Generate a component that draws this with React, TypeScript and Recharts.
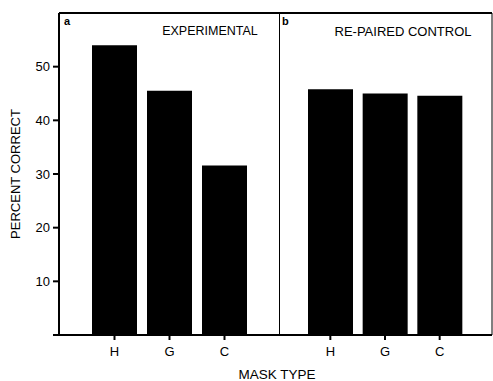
import { BarChart, Bar, XAxis, YAxis, ReferenceLine } from 'recharts';

const maskTypes = ['H', 'G', 'C'];
const experimental = [54, 45.5, 31.6];
const rePairedControl = [45.8, 45, 44.6];
const yTicks = [0, 10, 20, 30, 40, 50];

const dataA = maskTypes.map((m, i) => ({ mask: m, value: experimental[i] }));
const dataB = maskTypes.map((m, i) => ({ mask: m, value: rePairedControl[i] }));

const font = '"Liberation Sans", Arial, sans-serif';
const tickStyle = { fill: '#000', fontSize: 13, fontFamily: font };

export default function App() {
  return (
    <div style={{ position: 'absolute', left: 0, top: 0, width: 493, height: 381, background: '#fff' }}>
      <div style={{ position: 'absolute', left: 0, top: 0 }}>
        <BarChart width={280} height={381} data={dataA} margin={{ top: 12, right: 0, left: 0, bottom: 0 }}>
          <XAxis
            dataKey="mask"
            padding={{ left: 28, right: 28 }}
            stroke="#000"
            strokeWidth={2}
            tickSize={5}
            tickMargin={7}
            tick={tickStyle}
            height={46}
          />
          <XAxis
            xAxisId="top"
            dataKey="mask"
            orientation="top"
            height={1}
            stroke="#000"
            strokeWidth={2}
            tick={false}
            tickLine={false}
          />
          <YAxis
            domain={[0, 60]}
            ticks={yTicks}
            width={59}
            stroke="#000"
            strokeWidth={2}
            tickSize={6}
            tickMargin={3}
            tick={tickStyle}
            tickFormatter={(v) => (v === 0 ? '' : String(v))}
            label={{
              value: 'PERCENT CORRECT',
              angle: -90,
              position: 'insideLeft',
              offset: 15,
              style: { fill: '#000', fontSize: 13, fontFamily: font, textAnchor: 'middle' },
            }}
          />
          <YAxis
            yAxisId="r"
            orientation="right"
            mirror
            domain={[0, 60]}
            ticks={yTicks}
            width={1}
            stroke="#000"
            strokeWidth={2}
            tickSize={5}
            tick={false}
          />
          <ReferenceLine y={60} stroke="#000" strokeWidth={2} ifOverflow="visible" />
          <Bar dataKey="value" fill="#000" barSize={45} isAnimationActive={false} />
        </BarChart>
      </div>
      <div style={{ position: 'absolute', left: 278, top: 0 }}>
        <BarChart width={215} height={381} data={dataB} margin={{ top: 12, right: 0, left: 0, bottom: 0 }}>
          <XAxis
            dataKey="mask"
            padding={{ left: 25, right: 25 }}
            stroke="#000"
            strokeWidth={2}
            tickSize={5}
            tickMargin={7}
            tick={tickStyle}
            height={46}
          />
          <XAxis
            xAxisId="top"
            dataKey="mask"
            orientation="top"
            height={1}
            stroke="#000"
            strokeWidth={2}
            tick={false}
            tickLine={false}
          />
          <YAxis domain={[0, 60]} ticks={yTicks} hide />
          <YAxis
            yAxisId="r"
            orientation="right"
            domain={[0, 60]}
            width={1}
            stroke="#000"
            strokeWidth={1}
            tickLine={false}
            tick={false}
          />
          <Bar dataKey="value" fill="#000" barSize={45} isAnimationActive={false} />
        </BarChart>
      </div>
      <svg width={493} height={381} style={{ position: 'absolute', left: 0, top: 0, pointerEvents: 'none' }}>
        <g fontFamily={font} fill="#000">
          <text x={64} y={25} fontSize={11} fontWeight="bold">a</text>
          <text x={210} y={35} fontSize={12.5} textAnchor="middle">EXPERIMENTAL</text>
          <text x={282} y={25} fontSize={11} fontWeight="bold">b</text>
          <text x={403} y={36} fontSize={13} textAnchor="middle">RE-PAIRED CONTROL</text>
          <text x={277} y={379} fontSize={13.5} textAnchor="middle">MASK TYPE</text>
        </g>
      </svg>
    </div>
  );
}
